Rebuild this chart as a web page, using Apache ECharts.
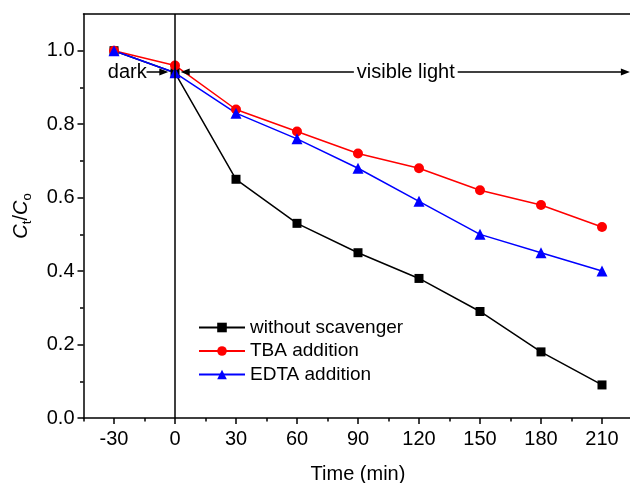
<!DOCTYPE html>
<html>
<head>
<meta charset="utf-8">
<script src="https://cdn.jsdelivr.net/npm/echarts@6/dist/echarts.min.js"></script>
<style>
  html, body { margin: 0; padding: 0; background: #fff; }
  #main { width: 630px; height: 483px; }
</style>
</head>
<body>
<div id="main"></div>
<script>
// data
var times = [-30, 0, 30, 60, 90, 120, 150, 180, 210];
var withoutScavenger = [1.0, 0.94, 0.65, 0.53, 0.45, 0.38, 0.29, 0.18, 0.09];
var tbaAddition = [1.0, 0.96, 0.84, 0.78, 0.72, 0.68, 0.62, 0.58, 0.52];
var edtaAddition = [1.0, 0.94, 0.83, 0.76, 0.68, 0.59, 0.50, 0.45, 0.40];

var xTicks = [-30, 0, 30, 60, 90, 120, 150, 180, 210];
var xMinorTicks = [-45, -15, 15, 45, 75, 105, 135, 165, 195];
var yTicks = [0, 0.2, 0.4, 0.6, 0.8, 1.0];
var yMinorTicks = [0.1, 0.3, 0.5, 0.7, 0.9];

function pairs(ys) {
  return times.map(function (t, i) { return [t, ys[i]]; });
}

var font = 'Liberation Sans, Arial, sans-serif';
var xMin = -45, xMax = 225, yMin = 0, yMax = 1.1;
var gridBox = { left: 83.5, top: 14, width: 549, height: 404, outerBoundsMode: 'none', containLabel: false };

var myChart = echarts.init(document.getElementById('main'), null, { renderer: 'canvas' });

var option = {
  animation: false,
  backgroundColor: '#fff',
  grid: [
    Object.assign({}, gridBox),
    Object.assign({}, gridBox)
  ],
  legend: {
    orient: 'vertical',
    left: 193,
    top: 313,
    itemWidth: 46,
    itemHeight: 12,
    itemGap: 4.5,
    data: ['without scavenger', 'TBA addition', 'EDTA addition'],
    textStyle: { fontFamily: font, fontSize: 19, color: '#000' }
  },
  xAxis: [
    {
      gridIndex: 0, type: 'value', position: 'bottom', min: xMin, max: xMax,
      name: 'Time (min)', nameLocation: 'middle', nameGap: 46,
      nameTextStyle: { fontFamily: font, fontSize: 20, color: '#000' },
      axisLine: { onZero: false, lineStyle: { color: '#000', width: 1.5 } },
      axisTick: { customValues: xTicks, length: 6, lineStyle: { color: '#000', width: 1.5 } },
      axisLabel: { customValues: xTicks, margin: 11, fontFamily: font, fontSize: 20, color: '#000' },
      splitLine: { show: false }
    },
    {
      gridIndex: 0, type: 'value', position: 'top', min: xMin, max: xMax,
      axisLine: { show: true, onZero: false, lineStyle: { color: '#000', width: 1.5 } },
      axisTick: { show: false }, axisLabel: { show: false }, splitLine: { show: false }
    },
    {
      gridIndex: 1, type: 'value', position: 'bottom', min: xMin, max: xMax,
      axisLine: { show: false, onZero: false },
      axisTick: { customValues: xMinorTicks, length: 3.5, lineStyle: { color: '#000', width: 1.5 } },
      axisLabel: { show: false }, splitLine: { show: false }
    }
  ],
  yAxis: [
    {
      gridIndex: 0, type: 'value', position: 'left', min: yMin, max: yMax,
      name: '{i|C}{s|t}{n|/}{i|C}{s|o}', nameLocation: 'middle', nameGap: 50,
      nameTextStyle: {
        color: '#000',
        rich: {
          i: { fontFamily: font, fontSize: 20, fontStyle: 'italic', color: '#000' },
          n: { fontFamily: font, fontSize: 20, color: '#000' },
          s: { fontFamily: font, fontSize: 13, color: '#000', padding: [12, 0, 0, 0] }
        }
      },
      axisLine: { onZero: false, lineStyle: { color: '#000', width: 1.5 } },
      axisTick: { customValues: yTicks, length: 6, lineStyle: { color: '#000', width: 1.5 } },
      axisLabel: {
        customValues: yTicks, margin: 9, fontFamily: font, fontSize: 20, color: '#000',
        formatter: function (v) { return v.toFixed(1); }
      },
      splitLine: { show: false }
    },
    {
      gridIndex: 0, type: 'value', position: 'right', min: yMin, max: yMax,
      axisLine: { show: true, onZero: false, lineStyle: { color: '#000', width: 1.5 } },
      axisTick: { show: false }, axisLabel: { show: false }, splitLine: { show: false }
    },
    {
      gridIndex: 1, type: 'value', position: 'left', min: yMin, max: yMax,
      axisLine: { show: false, onZero: false },
      axisTick: { customValues: yMinorTicks, length: 3.5, lineStyle: { color: '#000', width: 1.5 } },
      axisLabel: { show: false }, splitLine: { show: false }
    }
  ],
  series: [
    {
      name: 'without scavenger',
      type: 'line',
      data: pairs(withoutScavenger),
      symbol: 'rect',
      symbolSize: 9,
      itemStyle: { color: '#000' },
      lineStyle: { color: '#000', width: 1.5 },
      markLine: {
        silent: true,
        symbol: ['none', 'none'],
        label: { show: false },
        lineStyle: { color: '#000', width: 1.5, type: 'solid' },
        data: [
          [{ coord: [0, yMin] }, { coord: [0, yMax] }],
          [
            { coord: [-14, 0.942], symbol: 'none' },
            { coord: [-5.5, 0.942], symbol: 'triangle', symbolSize: [7, 9] }
          ],
          [
            { coord: [5, 0.942], symbol: 'triangle', symbolSize: [7, 9] },
            { coord: [221.5, 0.942], symbol: 'triangle', symbolSize: [7, 9] }
          ]
        ]
      },
      markPoint: {
        silent: true,
        symbol: 'rect',
        symbolSize: 1,
        itemStyle: { color: 'rgba(0,0,0,0)' },
        label: {
          show: true, position: 'inside', fontFamily: font, fontSize: 20, color: '#000',
          formatter: function (p) { return p.name; }
        },
        data: [
          { name: 'dark', coord: [-23.5, 0.942] },
          {
            name: 'visible light', coord: [113.5, 0.942],
            label: { backgroundColor: '#fff', padding: [0, 3] }
          }
        ]
      }
    },
    {
      name: 'TBA addition',
      type: 'line',
      data: pairs(tbaAddition),
      symbol: 'circle',
      symbolSize: 10,
      itemStyle: { color: '#ff0000' },
      lineStyle: { color: '#ff0000', width: 1.5 }
    },
    {
      name: 'EDTA addition',
      type: 'line',
      data: pairs(edtaAddition),
      symbol: 'triangle',
      symbolSize: 11,
      itemStyle: { color: '#0000ff' },
      lineStyle: { color: '#0000ff', width: 1.5 }
    }
  ]
};

myChart.setOption(option);
</script>
</body>
</html>
